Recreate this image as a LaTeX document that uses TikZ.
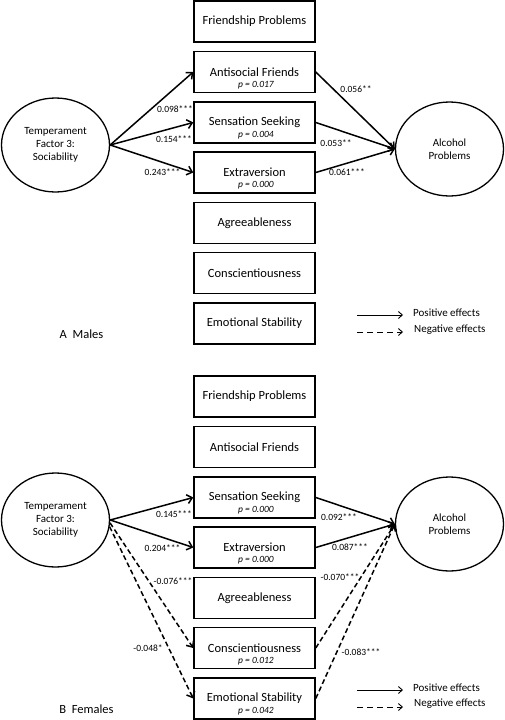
\documentclass[tikz,border=0pt]{standalone}
\usepackage{fontspec}
\setmainfont{Carlito}
\usetikzlibrary{arrows.meta,shapes.geometric}

\begin{document}
\begin{tikzpicture}[x=1pt,y=-1pt,
	box/.style={draw,line width=1.5pt,minimum width=121pt,minimum height=41pt,inner sep=0pt,font=\fontsize{12.5}{15}\selectfont},
	trait/.style={draw,ellipse,line width=1.3pt,minimum width=108pt,minimum height=94pt,inner sep=0pt,align=center,font=\fontsize{11}{13.3}\selectfont},
	pval/.style={inner sep=0pt,font=\fontsize{9.5}{11}\selectfont\itshape},
	coef/.style={inner sep=0pt,font=\fontsize{9.5}{11}\selectfont},
	panel/.style={inner sep=0pt,font=\fontsize{12.5}{15}\selectfont},
	legtext/.style={anchor=west,inner sep=0pt,font=\fontsize{11}{13}\selectfont},
	posarrow/.style={-{Straight Barb[length=5pt,width=9pt]},line width=1.5pt},
	negarrow/.style={posarrow,dash pattern=on 5pt off 3pt},
	legpos/.style={-{Straight Barb[length=4pt,width=7pt]},line width=0.9pt},
	legneg/.style={legpos,dash pattern=on 6pt off 4pt}]
	\useasboundingbox (0,0) rectangle (505,720);

	% A  Males
	\node[box] at (254.5,21.5) (fpA) {Friendship Problems};
	\node[box] at (254.5,72) (afA) {Antisocial Friends};
	\node[box] at (254.5,122.5) (ssA) {Sensation Seeking};
	\node[box] at (254.5,172.5) (exA) {Extraversion};
	\node[box] at (254.5,223) (agA) {Agreeableness};
	\node[box] at (254.5,273) (coA) {Conscientiousness};
	\node[box] at (254.5,323.5) (esA) {Emotional Stability};
	\node[pval] at (256,85) (afpA) {p = 0.017};
	\node[pval] at (256,135.5) (sspA) {p = 0.004};
	\node[pval] at (256,185.5) (expA) {p = 0.000};

	\node[trait] at (55.5,145) (tsA) {Temperament\\Factor 3:\\Sociability};
	\node[trait] at (449.5,149) (apA) {Alcohol\\Problems};

	\draw[posarrow] (tsA.east) -- (afA.west);
	\draw[posarrow] (tsA.east) -- (ssA.west);
	\draw[posarrow] (tsA.east) -- (exA.west);
	\draw[posarrow] (afA.east) -- (apA.west);
	\draw[posarrow] (ssA.east) -- (apA.west);
	\draw[posarrow] (exA.east) -- (apA.west);

	\node[coef] at (175,109.5) (c1A) {0.098***};
	\node[coef] at (174,139) (c2A) {0.154***};
	\node[coef] at (162.5,172) (c3A) {0.243***};
	\node[coef] at (356,89) (c4A) {0.056**};
	\node[coef] at (336,143) (c5A) {0.053**};
	\node[coef] at (347,172) (c6A) {0.061***};

	\node[panel] at (81.5,334) (labA) {A\ \ Males};
	\coordinate (lp1A) at (357,315);
	\coordinate (lp2A) at (403,315);
	\coordinate (ln1A) at (357,332);
	\coordinate (ln2A) at (403,332);
	\draw[legpos] (lp1A) -- (lp2A);
	\draw[legneg] (ln1A) -- (ln2A);
	\node[legtext] at (413,313) (lptA) {Positive effects};
	\node[legtext] at (414,330) (lntA) {Negative effects};

	% B  Females
	\node[box] at (254.5,396.5) (fpB) {Friendship Problems};
	\node[box] at (254.5,447) (afB) {Antisocial Friends};
	\node[box] at (254.5,497.5) (ssB) {Sensation Seeking};
	\node[box] at (254.5,547.5) (exB) {Extraversion};
	\node[box] at (254.5,598) (agB) {Agreeableness};
	\node[box] at (254.5,648) (coB) {Conscientiousness};
	\node[box] at (254.5,698.5) (esB) {Emotional Stability};
	\node[pval] at (256,510.5) (sspB) {p = 0.000};
	\node[pval] at (256,560.5) (expB) {p = 0.000};
	\node[pval] at (256,661) (copB) {p = 0.012};
	\node[pval] at (256,711.5) (espB) {p = 0.042};

	\node[trait] at (55.5,520) (tsB) {Temperament\\Factor 3:\\Sociability};
	\node[trait] at (449.5,524) (apB) {Alcohol\\Problems};

	\draw[posarrow] (tsB.east) -- (ssB.west);
	\draw[posarrow] (tsB.east) -- (exB.west);
	\draw[negarrow] (tsB.-3) -- (coB.west);
	\draw[negarrow] (tsB.-7) -- (esB.west);
	\draw[posarrow] (ssB.east) -- (apB.west);
	\draw[posarrow] (exB.east) -- (apB.west);
	\draw[negarrow] (coB.east) -- (apB.west);
	\draw[negarrow] (esB.east) -- (apB.west);

	\node[coef] at (174,514) (c1B) {0.145***};
	\node[coef] at (162.5,548) (c2B) {0.204***};
	\node[coef] at (173,581) (c3B) {-0.076***};
	\node[coef] at (148,648) (c4B) {-0.048*};
	\node[coef] at (339,517) (c5B) {0.092***};
	\node[coef] at (350,547) (c6B) {0.087***};
	\node[coef] at (340,577) (c7B) {-0.070***};
	\node[coef] at (361,652) (c8B) {-0.083***};

	\node[panel] at (86.5,709) (labB) {B\ \ Females};
	\coordinate (lp1B) at (357,690);
	\coordinate (lp2B) at (403,690);
	\coordinate (ln1B) at (357,707);
	\coordinate (ln2B) at (403,707);
	\draw[legpos] (lp1B) -- (lp2B);
	\draw[legneg] (ln1B) -- (ln2B);
	\node[legtext] at (413,688) (lptB) {Positive effects};
	\node[legtext] at (414,704) (lntB) {Negative effects};
\end{tikzpicture}
\end{document}
